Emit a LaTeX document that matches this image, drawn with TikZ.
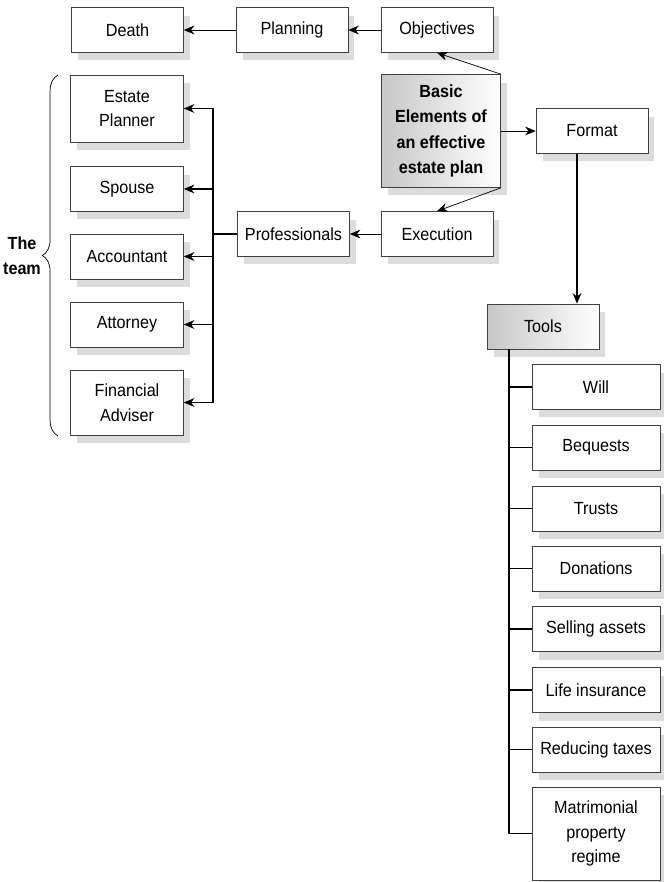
\documentclass[tikz,border=0pt]{standalone}
\usepackage{fontspec}
\setmainfont{Liberation Sans}[FakeStretch=0.92]
\usetikzlibrary{arrows.meta,shadows,decorations.pathreplacing}
\tikzset{
>={Stealth[length=6pt,width=5pt]},
  box/.style={
    rectangle,
    draw=black!75, thin,
    fill=white,
    drop shadow={opacity=0.28, shadow xshift=1.3mm, shadow yshift=-1.6mm},
    minimum width=2.24cm,
    minimum height=0.9cm,
    align=center,
    inner sep=1pt,
    font=\fontsize{10}{14}\selectfont},
  shadebox/.style={box, left color=black!22, right color=white},
  teambox/.style={box, minimum width=2.26cm},
  toolbox/.style={box, minimum width=2.56cm},
  line/.style={draw, thin, ->},
  stem/.style={draw, semithick},
  decoration={brace},
  tuborg/.style={decorate},
}

\begin{document}
\begin{tikzpicture}[x=0.02cm, y=-0.02cm]
    \useasboundingbox (0,0) rectangle (663,882);

    % top row
    \node[box] (death) at (127.5,30) {Death};
    \node[box] (planning) at (292,30) {Planning};
    \node[box] (objectives) at (437,30) {Objectives};

    % centre
    \node[shadebox, minimum width=2.38cm, minimum height=2.26cm,
          font=\fontsize{10}{14.5}\selectfont\bfseries] (basic) at (441,131)
          {Basic\\Elements of\\an effective\\estate plan};
    \node[box] (format) at (592,131) {Format};
    \node[box] (execution) at (437,234) {Execution};
    \node[box] (professionals) at (293.5,234) {Professionals};

    % the team
    \node[teambox, minimum height=1.34cm] (estate) at (127,108.5) {Estate\\Planner};
    \node[teambox] (spouse) at (127,189) {Spouse};
    \node[teambox] (accountant) at (127,256.5) {Accountant};
    \node[teambox] (attorney) at (127,324.5) {Attorney};
    \node[teambox, minimum height=1.3cm] (adviser) at (127,402.5) {Financial\\Adviser};

    \draw[tuborg, decoration={brace, amplitude=9pt}] (58,436) -- (58,75);
    \node[font=\fontsize{10}{14}\selectfont\bfseries, align=center] (team) at (22,256) {The\\team};

    % tools
    \node[shadebox] (tools) at (543,326.5) {Tools};
    \node[toolbox] (will) at (596,387) {Will};
    \node[toolbox] (bequests) at (596,447.5) {Bequests};
    \node[toolbox] (trusts) at (596,508.5) {Trusts};
    \node[toolbox] (donations) at (596,568.5) {Donations};
    \node[toolbox] (selling) at (596,629) {Selling assets};
    \node[toolbox] (life) at (596,690) {Life insurance};
    \node[toolbox] (reducing) at (596,749.5) {Reducing taxes};
    \node[toolbox, minimum height=1.86cm] (regime) at (596,833.5) {Matrimonial\\property\\regime};

    % arrows
    \draw[line] (planning) -- (death);
    \draw[line] (objectives) -- (planning);
    \draw[line] (basic.north east) -- (objectives.south);
    \draw[line] (basic.south east) -- (execution.north);
    \draw[line] (basic) -- (format);
    \draw[line] (execution) -- (professionals);

    \coordinate (fdrop) at ([xshift=-0.3cm]format.south);
    \draw[line, thick] (fdrop) -- (fdrop |- tools.north);

    % branches
    \coordinate (spine) at (213,234);
    \draw[stem] (professionals.west) -- (spine);
    \draw[stem] (spine |- estate) -- (spine |- adviser);
    \foreach \n in {estate,spouse,accountant,attorney,adviser}
        \draw[line, semithick] (spine |- \n) -- (\n.east);

    \coordinate (trunk) at (509,0);
    \draw[stem] (trunk |- tools.south) -- (trunk |- regime);
    \foreach \n in {will,bequests,trusts,donations,selling,life,reducing,regime}
        \draw[stem] (trunk |- \n) -- (\n.west);
\end{tikzpicture}
\end{document}
